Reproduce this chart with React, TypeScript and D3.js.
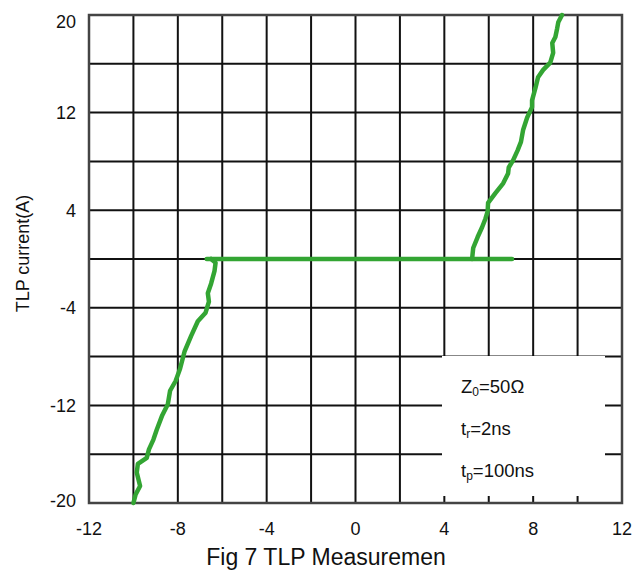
import React from "react";
import * as d3 from "d3";

// ---- data ----
const xTicks = [-12, -8, -4, 0, 4, 8, 12];
const yTicks = [20, 12, 4, -4, -12, -20];
const xGrid = [-12, -10, -8, -6, -4, -2, 0, 2, 4, 6, 8, 10, 12];
const yGrid = [-20, -16, -12, -8, -4, 0, 4, 8, 12, 16, 20];

// negative branch (V, I)
const negV = [-10.0, -9.9, -9.7, -9.85, -9.8, -9.4, -9.3, -9.1, -8.95, -8.7, -8.45, -8.35, -8.1, -7.9, -7.7, -7.4, -7.1, -6.75, -6.6, -6.65, -6.5, -6.35, -6.3, -6.5];
const negI = [-20, -19.3, -18.6, -17.5, -16.8, -16.3, -15.6, -14.8, -14.0, -12.8, -11.9, -10.8, -10.0, -9.0, -7.6, -6.3, -5.1, -4.4, -3.5, -2.8, -2.0, -1.0, -0.3, 0];

// snapback segment at I=0
const flatV = [-6.7, 7.05];
const flatI = [0, 0];

// positive branch
const posV = [5.25, 5.3, 5.5, 5.7, 5.85, 5.95, 5.97, 6.3, 6.65, 6.87, 6.9, 7.1, 7.3, 7.45, 7.55, 7.73, 7.95, 7.95, 8.1, 8.22, 8.45, 8.77, 8.9, 8.86, 9.0, 9.08, 9.13, 9.3];
const posI = [0, 0.9, 1.8, 2.6, 3.3, 3.9, 4.6, 5.4, 6.2, 7.0, 7.5, 8.1, 8.9, 9.6, 10.6, 11.6, 12.45, 13.0, 14.0, 14.9, 15.5, 16.1, 16.9, 17.7, 18.2, 18.9, 19.4, 20];

const W = 637;
const H = 571;
const L = 89, R = 622, T = 15, B = 503;
const FONT = "'Liberation Sans', Arial, Helvetica, sans-serif";
const GREEN = "#33a533";

export default function App() {
  const x = d3.scaleLinear().domain([-12, 12]).range([L, R]);
  const y = d3.scaleLinear().domain([-20, 20]).range([B, T]);
  const line = d3
    .line<[number, number]>()
    .x((d) => x(d[0]))
    .y((d) => y(d[1]));

  const zip = (a: number[], b: number[]) => a.map((v, i) => [v, b[i]] as [number, number]);
  const series = [zip(negV, negI), zip(flatV, flatI), zip(posV, posI)];

  return (
    <svg
      width={W}
      height={H}
      style={{ position: "absolute", left: 0, top: 0, background: "#fff" }}
      fontFamily={FONT}
    >
      <rect x={0} y={0} width={W} height={H} fill="#fff" />
      {xGrid.map((v) => (
        <line key={"gx" + v} x1={x(v)} x2={x(v)} y1={T} y2={B} stroke="#111" strokeWidth={2} />
      ))}
      {yGrid.map((v) => (
        <line key={"gy" + v} x1={L} x2={R} y1={y(v)} y2={y(v)} stroke="#111" strokeWidth={2} />
      ))}
      <rect x={L} y={T} width={R - L} height={B - T} fill="none" stroke="#444" strokeWidth={2.5} />

      {/* legend box */}
      <rect x={442} y={356} width={163} height={140} fill="#fff" />
      <g fontSize={18.5} fill="#111">
        <text x={461} y={393}>
          Z<tspan fontSize={12} dy={3}>0</tspan>
          <tspan dy={-3}>=50Ω</tspan>
        </text>
        <text x={461} y={435}>
          t<tspan fontSize={12} dy={3}>r</tspan>
          <tspan dy={-3}>=2ns</tspan>
        </text>
        <text x={461} y={477}>
          t<tspan fontSize={12} dy={3}>p</tspan>
          <tspan dy={-3}>=100ns</tspan>
        </text>
      </g>

      {series.map((s, i) => (
        <path
          key={"s" + i}
          d={line(s) || ""}
          fill="none"
          stroke={GREEN}
          strokeWidth={4.5}
          strokeLinejoin="round"
          strokeLinecap="round"
        />
      ))}

      {xTicks.map((v) => (
        <text key={"tx" + v} x={x(v)} y={535} fontSize={18} textAnchor="middle" fill="#111">
          {v}
        </text>
      ))}
      {yTicks.map((v) => {
        const cy = Math.min(Math.max(y(v), 21), 500);
        return (
          <text key={"ty" + v} x={76} y={cy + 6.5} fontSize={18} textAnchor="end" fill="#111">
            {v}
          </text>
        );
      })}

      <text
        transform={`translate(28.5,253.5) rotate(-90)`}
        fontSize={18}
        textAnchor="middle"
        fill="#111"
      >
        TLP current(A)
      </text>
      <text x={326} y={565} fontSize={23} textAnchor="middle" fill="#111">
        Fig 7 TLP Measuremen
      </text>
    </svg>
  );
}
